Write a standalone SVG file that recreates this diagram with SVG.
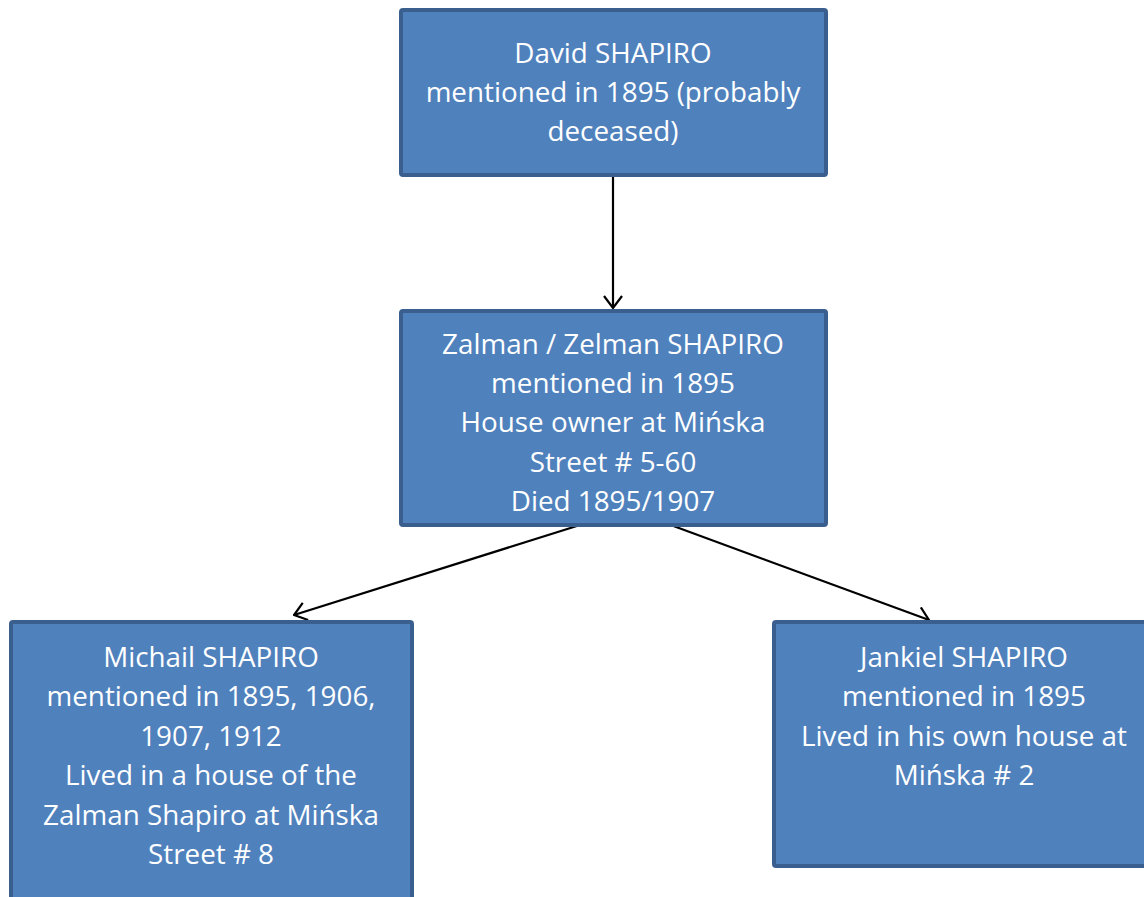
<svg xmlns="http://www.w3.org/2000/svg" width="1144" height="897" viewBox="0 0 1144 897">
<defs>
<style>
.box{fill:#4f81bd;stroke:#3a5f8e;stroke-width:4}
.t{font-family:"Open Sans",Lato,sans-serif;font-size:27.8px;fill:#ffffff;text-anchor:middle}
.c{stroke:#000;stroke-width:2.2;fill:none}
</style>
<marker id="ah" viewBox="0 0 14 20" markerWidth="14" markerHeight="20" refX="13" refY="10" orient="auto" markerUnits="userSpaceOnUse">
<path d="M1,1 L13,10 L1,19" fill="none" stroke="#000" stroke-width="2.2"/>
</marker>
</defs>
<rect width="1144" height="897" fill="#fff"/>
<g id="connectors">
<line class="c" x1="613" y1="177" x2="613" y2="308" marker-end="url(#ah)"/>
<line class="c" x1="580" y1="525" x2="294" y2="615" marker-end="url(#ah)"/>
<line class="c" x1="668" y1="524" x2="929" y2="620" marker-end="url(#ah)"/>
</g>
<g id="david">
<rect class="box" x="401" y="10" width="425" height="165" rx="2"/>
<text class="t"><tspan x="613" y="63">David SHAPIRO</tspan><tspan x="613" y="102">mentioned in 1895 (probably</tspan><tspan x="613" y="141">deceased)</tspan></text>
</g>
<g id="zalman">
<rect class="box" x="401" y="311" width="425" height="214" rx="2"/>
<text class="t"><tspan x="613" y="354">Zalman / Zelman SHAPIRO</tspan><tspan x="613" y="393">mentioned in 1895</tspan><tspan x="613" y="432">House owner at Mińska</tspan><tspan x="613" y="472">Street # 5-60</tspan><tspan x="613" y="511">Died 1895/1907</tspan></text>
</g>
<g id="michail">
<rect class="box" x="11" y="622" width="401" height="290" rx="2"/>
<text class="t"><tspan x="211" y="667">Michail SHAPIRO</tspan><tspan x="211" y="706">mentioned in 1895, 1906,</tspan><tspan x="211" y="746">1907, 1912</tspan><tspan x="211" y="785">Lived in a house of the</tspan><tspan x="211" y="825">Zalman Shapiro at Mińska</tspan><tspan x="211" y="864">Street # 8</tspan></text>
</g>
<g id="jankiel">
<rect class="box" x="774" y="622" width="380" height="244" rx="2"/>
<text class="t"><tspan x="964" y="667">Jankiel SHAPIRO</tspan><tspan x="964" y="706">mentioned in 1895</tspan><tspan x="964" y="746">Lived in his own house at</tspan><tspan x="964" y="785">Mińska # 2</tspan></text>
</g>
</svg>
